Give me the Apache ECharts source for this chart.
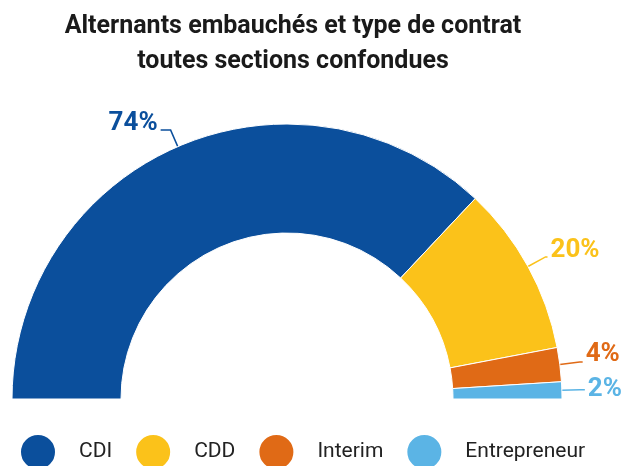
<!DOCTYPE html>
<html>
<head>
<meta charset="utf-8">
<script src="https://cdn.jsdelivr.net/npm/echarts@6/dist/echarts.min.js"></script>
<style>
html,body{margin:0;padding:0;background:#fff;}
#chart{width:621px;height:466px;}
</style>
</head>
<body>
<div id="chart"></div>
<script>
const categories = ['CDI', 'CDD', 'Interim', 'Entrepreneur'];
const values = [74, 20, 4, 2];
const colors = ['#0B4F9C', '#FBC21A', '#E06A16', '#5BB4E5'];
const titleLines = ['Alternants embauchés et type de contrat', 'toutes sections confondues'];

// spacer: extra empty line height below the label text to lift it above the line end
const labelCfg = [
  { length: 18, length2: 10, spacer: 14 },
  { length: 20, length2: 2, spacer: 12 },
  { length: 20, length2: 3, spacer: 16 },
  { length: 18, length2: 5, spacer: 0 }
];

const chart = echarts.init(document.getElementById('chart'), null, { renderer: 'canvas' });
chart.setOption({
  animation: false,
  title: {
    text: titleLines.join('\n'),
    left: 288,
    textAlign: 'center',
    top: 4,
    textStyle: {
      fontFamily: 'Roboto',
      fontWeight: 'bold',
      fontSize: 25,
      lineHeight: 35,
      color: '#1a1a1a'
    }
  },
  legend: {
    left: 19,
    top: 433,
    padding: 0,
    icon: 'circle',
    itemWidth: 36,
    itemHeight: 36,
    itemGap: 22,
    data: categories,
    textStyle: {
      fontFamily: 'Roboto',
      fontSize: 21,
      color: '#222',
      padding: [0, 0, 0, 18]
    }
  },
  series: [{
    type: 'pie',
    center: [287, 399],
    radius: [166, 275],
    startAngle: 180,
    endAngle: 0,
    clockwise: true,
    avoidLabelOverlap: false,
    itemStyle: { borderColor: '#fff', borderWidth: 1 },
    label: {
      show: true,
      position: 'outside',
      fontFamily: 'Roboto',
      fontWeight: 'bold',
      fontSize: 26,
      distanceToLabelLine: 3
    },
    labelLine: { show: true, lineStyle: { width: 1.5 } },
    data: categories.map((name, i) => ({
      name: name,
      value: values[i],
      itemStyle: { color: colors[i] },
      label: {
        color: colors[i],
        formatter: labelCfg[i].spacer ? '{v|{c}%}\n{s|}' : '{v|{c}%}',
        rich: {
          v: { color: colors[i], fontFamily: 'Roboto', fontWeight: 'bold', fontSize: 26, lineHeight: 28 },
          s: { fontSize: 1, lineHeight: labelCfg[i].spacer }
        }
      },
      labelLine: { length: labelCfg[i].length, length2: labelCfg[i].length2, lineStyle: { color: colors[i] } }
    }))
  }]
});
</script>
</body>
</html>
